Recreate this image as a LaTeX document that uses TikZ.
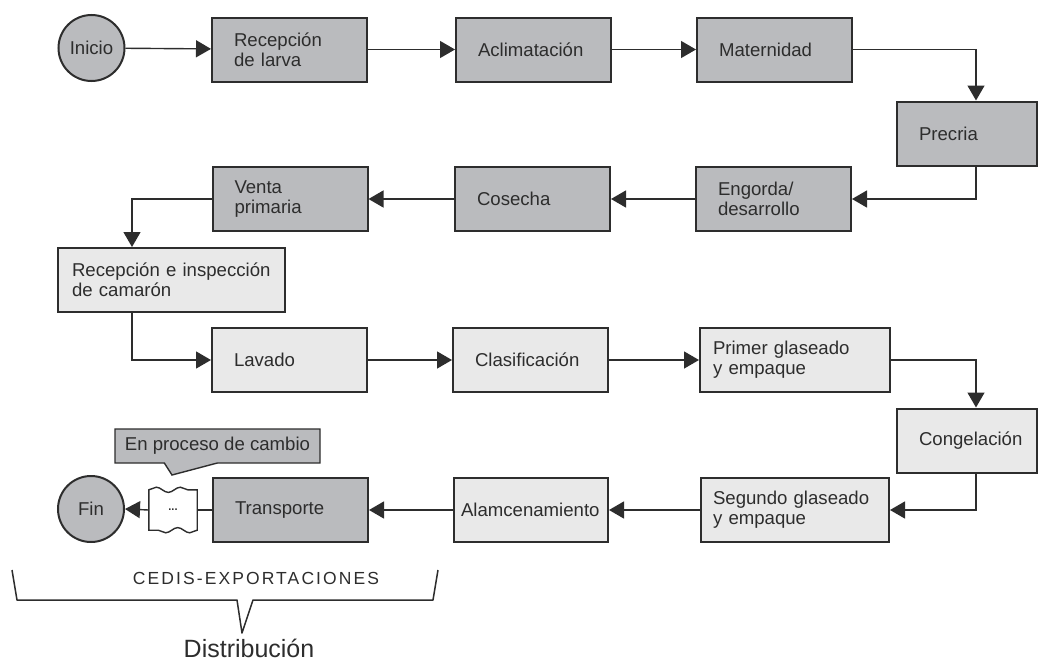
\documentclass[tikz,border=0pt]{standalone}
\usepackage{fontspec}
\setmainfont{Liberation Sans}
\newfontfamily\spacedfont[LetterSpace=12]{Liberation Sans}
\usetikzlibrary{arrows.meta,shapes.callouts,decorations.pathmorphing}
\definecolor{ink}{RGB}{45,45,45}
\definecolor{darkfill}{RGB}{186,187,190}
\definecolor{lightfill}{RGB}{233,233,233}
\newcommand\boxfont{\fontsize{18.6}{20}\selectfont}
\tikzset{
  stepbox/.style={draw=ink, line width=2pt, minimum height=64pt, inner ysep=0pt,
    inner xsep=22pt, text width=111pt, align=left, text=ink, font=\boxfont},
  darkstep/.style={stepbox, fill=darkfill},
  lightstep/.style={stepbox, fill=lightfill},
  endpoint/.style={circle, draw=ink, line width=2pt, fill=darkfill, minimum size=66pt,
    inner sep=0pt, text=ink, font=\boxfont},
  flow/.style={draw=ink, line width=1.4pt, -{Triangle[length=15pt,width=17pt]}},
  link/.style={draw=ink, line width=1.4pt},
  wave/.style={decoration={snake, amplitude=2.6pt, segment length=24pt}}
}

\begin{document}
\begin{tikzpicture}[x=1pt,y=-1pt]
  \useasboundingbox (0,0) rectangle (1039,672);

  % first stage: larva
  \node[endpoint] (inicio) at (91.5,48) {Inicio};
  \node[darkstep] (larva) at (289.5,49.5) {Recepción\\de larva};
  \node[darkstep] (aclim) at (533.5,49.5) {Aclimatación};
  \node[darkstep] (matern) at (774.5,49.5) {Maternidad};
  \node[darkstep, text width=96pt] (precria) at (967,133.5) {Precria};
  \node[darkstep] (engorda) at (773.5,199) {Engorda/\\desarrollo};
  \node[darkstep] (cosecha) at (532.5,199) {Cosecha};
  \node[darkstep] (venta) at (290,199) {Venta\\primaria};

  % second stage: planta
  \node[lightstep, inner xsep=14pt, text width=199pt] (recep) at (171.5,280)
    {Recepción e inspección\\de camarón};
  \node[lightstep] (lavado) at (289.5,360) {Lavado};
  \node[lightstep] (clasif) at (530.5,360) {Clasificación};
  \node[lightstep, inner xsep=13pt, text width=164pt] (primer) at (795,360)
    {Primer glaseado\\y empaque};
  \node[lightstep, text width=96pt] (congel) at (967,440.5) {Congelación};
  \node[lightstep, inner xsep=12pt, text width=164pt] (segundo) at (795,510)
    {Segundo glaseado\\y empaque};
  \node[lightstep, inner xsep=7pt, text width=140pt] (almac) at (531,510) {Alamcenamiento};

  % distribution
  \node[darkstep] (transp) at (290.5,510) {Transporte};
  \node[minimum width=48pt, minimum height=40pt, inner sep=0pt, text=ink,
    font=\fontsize{11}{11}\selectfont\bfseries] (tape) at (173,510) {};
  \filldraw[fill=white, draw=ink, line width=1.4pt, wave]
    (tape.south west) -- (tape.north west)
    decorate {-- (tape.north east)} -- (tape.south east)
    decorate {-- (tape.south west)} -- cycle;
  \node[text=ink, font=\fontsize{11}{11}\selectfont\bfseries] at (tape) {...};
  \node[endpoint] (fin) at (91,509) {Fin};
  \node[rectangle callout, draw=ink, line width=1.4pt, fill=darkfill, text=ink, font=\boxfont,
    minimum width=205pt, minimum height=34pt, inner sep=0pt,
    callout absolute pointer={(172,475)}, callout pointer width=53pt] (cambio) at (217.5,446)
    {En proceso de cambio};

  \draw[flow] (inicio) -- (larva);
  \draw[flow] (larva) -- (aclim);
  \draw[flow] (aclim) -- (matern);
  \draw[flow] (matern.east) -| ([xshift=9pt]precria.north);
  \draw[flow] ([xshift=9pt]precria.south) |- (engorda.east);
  \draw[flow] (engorda) -- (cosecha);
  \draw[flow] (cosecha) -- (venta);
  \draw[flow] (venta.west) -| ([xshift=-39.5pt]recep.north);
  \draw[flow] ([xshift=-39.5pt]recep.south) |- (lavado.west);
  \draw[flow] (lavado) -- (clasif);
  \draw[flow] (clasif) -- (primer);
  \draw[flow] (primer.east) -| ([xshift=9pt]congel.north);
  \draw[flow] ([xshift=9pt]congel.south) |- (segundo.east);
  \draw[flow] (segundo) -- (almac);
  \draw[flow] (almac) -- (transp);
  \draw[link] (transp.west) -- (tape.east);
  \draw[flow] (tape.west) -- (fin.east);

  % brace under the distribution row
  \draw[ink, line width=1.5pt, line join=round]
    (12,570) -- (17,600) -- (237,600) -- (242,633) -- (253,600) -- (433,600) -- (438,570);
  \node[anchor=base, text=ink, font=\spacedfont\fontsize{17.5}{19}\selectfont] (cedis) at (256,584)
    {CEDIS-EXPORTACIONES};
  \node[anchor=base, text=ink, font=\fontsize{25}{27}\selectfont] (distrib) at (249,657)
    {Distribución};
\end{tikzpicture}
\end{document}
